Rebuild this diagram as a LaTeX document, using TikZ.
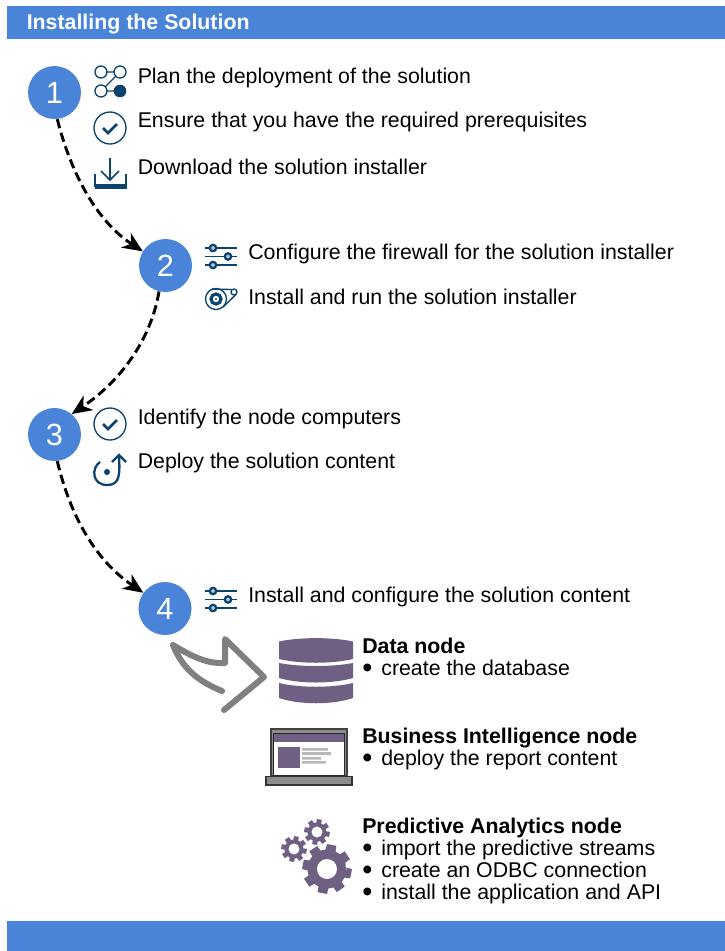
\documentclass[tikz,border=0pt]{standalone}
\usepackage{fontspec}
\setmainfont{Liberation Sans}
\usetikzlibrary{arrows.meta}
\definecolor{barblue}{HTML}{4A84D8}
\definecolor{iconblue}{HTML}{0B436F}
\definecolor{plum}{HTML}{6F5F82}
\definecolor{greyarrow}{HTML}{808080}
\tikzset{
  stepnum/.style={circle,fill=barblue,minimum size=39.75pt,inner sep=0pt,text=white,font=\fontsize{23}{23}\selectfont},
  body/.style={anchor=base west,inner sep=0pt,font=\fontsize{16}{18}\selectfont},
  head/.style={anchor=base west,inner sep=0pt,font=\bfseries\fontsize{16}{18}\selectfont},
  sub/.style={anchor=base west,inner sep=0pt,font=\fontsize{16}{18}\selectfont},
  flow/.style={draw=black,line width=2.2pt,dash pattern=on 7pt off 3.6pt,-{Stealth[length=15pt,width=13pt,inset=4.5pt]}},
  iconline/.style={draw=iconblue,line width=1pt,fill=none},
}
\newcommand{\bul}{\makebox[14.3pt][l]{\smash{\raisebox{-2pt}{\scalebox{1.35}{•}}}}}
\newcommand{\sliders}[2]{%
  \begin{scope}[shift={(#1,#2)}]
    \foreach \yy in {0,8.5,17}{\draw[iconline] (0,\yy) -- (32,\yy);}
    \draw[iconblue,line width=1.7pt,fill=white!70!iconblue] (8,0) circle (3.2);
    \draw[iconblue,line width=1.7pt,fill=white!70!iconblue] (23,8.5) circle (3.2);
    \draw[iconblue,line width=1.7pt,fill=white!70!iconblue] (8,17) circle (3.2);
  \end{scope}}
\newcommand{\checkicon}[2]{%
  \begin{scope}[shift={(#1,#2)}]
    \draw[iconline] (0,0) circle (16);
    \draw[iconblue,line width=1.9pt] (-7,0) -- (-2,5) -- (7,-4);
  \end{scope}}
\newcommand{\gearicon}[6]{% x y tip root hole halfangle
  \begin{scope}[shift={(#1,#2)}]
    \fill[plum] (11:#4)
      \foreach \a in {0,45,...,315}{
        -- (\a+11-#6-4:#4) -- (\a+11-#6:#3) -- (\a+11+#6:#3) -- (\a+11+#6+4:#4)
      } -- cycle;
    \fill[white] (0,0) circle (#5);
  \end{scope}}
\begin{document}
\begin{tikzpicture}[x=0.75pt,y=-0.75pt]
\useasboundingbox (0,0) rectangle (725,951);
\fill[white] (0,0) rectangle (725,951);
\fill[barblue] (7,6) rectangle (725,39);
\fill[barblue] (7,921) rectangle (725,951);
\node[anchor=base west,inner sep=0pt,text=white,font=\bfseries\fontsize{16}{18}\selectfont] (title) at (26.5,29) {Installing the Solution};

\node[stepnum] (n1) at (54.5,92.5) {1};
\node[stepnum] (n2) at (165.5,265.5) {2};
\node[stepnum] (n3) at (54.5,434.5) {3};
\node[stepnum] (n4) at (165,608.5) {4};

\draw[flow] (n1.-84) .. controls (70,170) and (95,220) .. (n2.148);
\draw[flow] (n2.-104) .. controls (150,345) and (115,385) .. (n3.50);
\draw[flow] (n3.-84) .. controls (70,515) and (95,560) .. (n4.144);

\node[body] (t1) at (137.5,83) {Plan the deployment of the solution};
\node[body] (t2) at (137.5,127) {Ensure that you have the required prerequisites};
\node[body] (t3) at (137.5,174) {Download the solution installer};
\node[body] (t4) at (248,259) {Configure the firewall for the solution installer};
\node[body] (t5) at (248,304) {Install and run the solution installer};
\node[body] (t6) at (137.5,424) {Identify the node computers};
\node[body] (t7) at (137.5,468) {Deploy the solution content};
\node[body] (t8) at (248,602) {Install and configure the solution content};

\node[head] (h1) at (362,653) {Data node};
\node[sub] (s1) at (362,675) {\bul create the database};
\node[head] (h2) at (362,743) {Business Intelligence node};
\node[sub] (s2) at (362,765) {\bul deploy the report content};
\node[head] (h3) at (362,833) {Predictive Analytics node};
\node[sub] (s3) at (362,855) {\bul import the predictive streams};
\node[sub] (s4) at (362,877) {\bul create an ODBC connection};
\node[sub] (s5) at (362,899) {\bul install the application and API};

% plan icon
\draw[iconline] (106,72) -- (114,72) (116,76) -- (105,87) (106,91) -- (114,91);
\draw[iconline] (101,72) circle (6) (120,72) circle (6) (101,91) circle (6);
\fill[iconblue] (120,91) circle (6.3);
% check
\checkicon{110}{128}
\checkicon{110}{424}
% download
\draw[iconblue,line width=1.3pt] (110,158) -- (110,180) (101,171) -- (110,180) -- (119,171);
\draw[iconline] (95,174) -- (95,187) (126,174) -- (126,187);
\fill[iconblue] (94.5,184) rectangle (126.5,189);
% sliders
\sliders{205}{248}
\sliders{205}{591}
% installer
\draw[iconline] (216,299) circle (10.5);
\draw[iconblue,line width=2.4pt] (216,299) circle (5);
\fill[iconblue] (216,299) circle (1.2);
\draw[iconline] (234,292) circle (3);
\draw[iconline] (212,289) -- (232,289.5) (223,307) -- (236,294.5);
% deploy
\draw[iconblue,line width=1.7pt] (100,462) .. controls (91,468) and (92,485) .. (107,485) .. controls (120,485) and (120,475) .. (119,455);
\draw[iconblue,line width=1.7pt] (112,462) -- (119,455) -- (126,462);
\fill[iconblue] (107,472) circle (3);

% big grey arrow
\draw[greyarrow,line width=4.5pt,line cap=round,line join=round]
  (222,691) .. controls (200,682) and (183,670) .. (173,645)
  .. controls (190,655) and (205,664) .. (225,663) -- (225,639) -- (264,677) -- (224,710);

% database
\fill[plum] (279,641.5) .. controls (300,637) and (332,637) .. (353,641.5) -- (353,659) .. controls (332,664) and (300,664) .. (279,659) -- cycle;
\fill[plum] (279,663) .. controls (300,667) and (332,667) .. (353,663) -- (353,678) .. controls (332,684) and (300,684) .. (279,678) -- cycle;
\fill[plum] (279,683) .. controls (300,688) and (332,688) .. (353,683) -- (353,698) .. controls (332,705) and (300,705) .. (279,698) -- cycle;

% laptop
\draw[draw=black!75,fill=black!45,line width=0.8pt] (271,729) rectangle (347,776);
\fill[black!85] (273,733) rectangle (345,776);
\fill[white] (274,734) rectangle (344,775);
\fill[plum] (274,734) rectangle (344,742);
\fill[plum] (278,747) rectangle (300,768);
\fill[black!28] (302,748) rectangle (328,750.5) (302,752) rectangle (331,755) (302,757) rectangle (321,759.5) (302,761) rectangle (326,763.5);
\draw[draw=black!80,fill=black!45,line width=0.8pt] (266,776.5) rectangle (352,785);

% gears
\gearicon{327}{869}{25}{19.5}{10}{11}
\gearicon{317}{832}{13}{9.5}{5.5}{11}
\gearicon{294}{849}{13}{9.5}{5.5}{11}
\end{tikzpicture}
\end{document}
